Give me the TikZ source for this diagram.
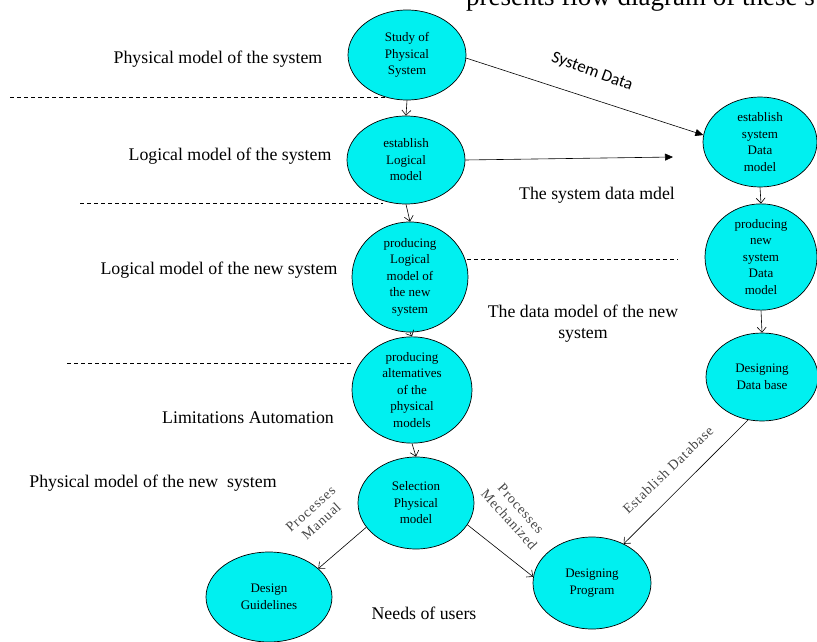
\documentclass[tikz,border=0pt]{standalone}
\usepackage{fontspec}
\setmainfont{Liberation Serif}
\newfontfamily\calib{Carlito}
\newfontfamily\spaced[LetterSpace=6]{Liberation Serif}
\usetikzlibrary{shapes.geometric,arrows.meta}
\definecolor{bub}{RGB}{0,240,240}
\definecolor{lblgray}{RGB}{70,70,70}
\tikzset{
  bubble/.style={ellipse,draw=black,line width=0.7pt,fill=bub,inner sep=0pt,align=center,
    font=\fontsize{13}{16.5}\selectfont},
  sidelbl/.style={font=\fontsize{17.8}{20}\selectfont,inner sep=0pt},
  flow/.style={line width=0.6pt,-{Straight Barb[length=5pt,width=9pt]}},
  flowfill/.style={line width=0.6pt,-{Triangle[length=8pt,width=7pt]}},
  sep/.style={dashed,dash pattern=on 4pt off 3pt,line width=0.6pt},
  edgelbl/.style={font=\spaced\fontsize{14}{16}\selectfont,text=lblgray,align=center,inner sep=0pt}
}
\begin{document}
\begin{tikzpicture}[x=1pt,y=-1pt]
\useasboundingbox (0,0) rectangle (817,642);
\clip (0,0) rectangle (817,642);
% top cut text
\node[anchor=base west,inner sep=0pt,font=\fontsize{27}{29}\selectfont] (toptxt) at (466,5.5) {presents flow diagram of these s};
% bubbles
\node[bubble,minimum width=118pt,minimum height=90pt] (n1) at (407,55) {Study of\\Physical\\System};
\node[bubble,minimum width=118pt,minimum height=88pt] (n2) at (406,160) {establish\\Logical\\model};
\node[bubble,minimum width=116pt,minimum height=90pt] (n3) at (410,277) {producing\\Logical\\model of\\the new\\system};
\node[bubble,minimum width=120pt,minimum height=96pt] (n4) at (412,390) {producing\\altematives\\of the\\physical\\models};
\node[bubble,minimum width=116pt,minimum height=92pt] (n5) at (416,503) {Selection\\Physical\\model};
\node[bubble,minimum width=126pt,minimum height=90pt] (n6) at (269,597) {Design\\Guidelines};
\node[bubble,minimum width=118pt,minimum height=92pt] (n7) at (592,583) {Designing\\Program};
\node[bubble,minimum width=114pt,minimum height=90pt] (n8) at (760,142) {establish\\system\\Data\\model};
\node[bubble,minimum width=112pt,minimum height=100pt] (n9) at (761,257) {producing\\new\\system\\Data\\model};
\node[bubble,minimum width=112pt,minimum height=88pt] (n10) at (762,377) {Designing\\Data base};
% side labels
\node[sidelbl] (l1) at (218,59) {Physical model of the system};
\node[sidelbl] (l2) at (230,156) {Logical model of the system};
\node[sidelbl] (l3) at (219,270) {Logical model of the new system};
\node[sidelbl] (l4) at (248,418) {Limitations Automation};
\node[sidelbl] (l5) at (153,483) {Physical model of the new\ \ system};
\node[sidelbl] (l6) at (597,195) {The system data mdel};
\node[sidelbl,align=center,font=\fontsize{17.8}{21}\selectfont] (l7) at (583,324) {The data model of the new\\system};
\node[sidelbl] (l8) at (424,613) {Needs of users};
% dashed separators
\coordinate (d1a) at (10,97);  \coordinate (d1b) at (388,97);
\coordinate (d2a) at (80,203); \coordinate (d2b) at (383,203);
\coordinate (d3a) at (67,363); \coordinate (d3b) at (353,363);
\coordinate (d4a) at (467,259); \coordinate (d4b) at (678,259);
\draw[sep] (d1a) -- (d1b);
\draw[sep] (d2a) -- (d2b);
\draw[sep] (d3a) -- (d3b);
\draw[sep] (d4a) -- (d4b);
% vertical flow
\draw[flow] (n1.south) -- (n2.north);
\draw[flow] (n2.south) -- (n3.north);
\draw[flow] (n3.south) -- (n4.north);
\draw[flow] (n4.south) -- (n5.north);
\draw[flow] (n8.south) -- (n9.north);
\draw[flow] (n9.south) -- (n10.north);
% cross arrows
\draw[flowfill] (n1.-3) -- (n8.173);
\coordinate (lm) at (673,157);
\draw[flowfill] (n2.east) -- (lm);
\draw[flow] (n10.252) -- (n7.51);
\draw[flow] (n5.206) -- (n6.30);
\draw[flow] (n5.-23) -- (n7.174);
% edge labels
\node[font=\calib\fontsize{17}{19}\selectfont,rotate=-20,inner sep=0pt] (sdl) at (592,72) {System Data};
\node[edgelbl,rotate=44] (edl) at (668,470) {Establish Database};
\node[edgelbl,rotate=42] (pml) at (316,515) {Processes\\Manual};
\node[edgelbl,rotate=-48] (pzl) at (515,514) {Processes\\Mechanized};
\end{tikzpicture}
\end{document}
